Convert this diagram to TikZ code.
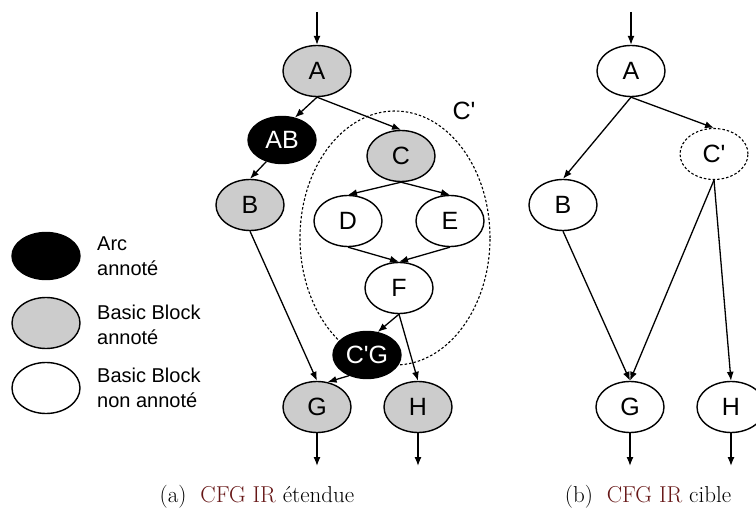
\documentclass[tikz,border=0pt]{standalone}
\usepackage{fontspec}
\newfontfamily\hv{Liberation Sans}
\usetikzlibrary{shapes.geometric,arrows.meta}
\definecolor{capred}{RGB}{102,22,22}
\definecolor{bbgray}{RGB}{204,204,204}
\begin{document}
\begin{tikzpicture}[x=1pt,y=-1pt,
  bb/.style={ellipse,draw,line width=1.4pt,minimum width=68pt,minimum height=51pt,inner sep=0pt,font=\hv\fontsize{25}{25}\selectfont},
  arcbb/.style={bb,fill=black,text=white,minimum height=47pt},
  annbb/.style={bb,fill=bbgray},
  plainbb/.style={bb,fill=white},
  dotbb/.style={bb,dash pattern=on 2.5pt off 2pt,line width=1.1pt},
  edge/.style={-{Latex[length=9pt,width=7pt]},line width=1.3pt},
  lg/.style={font=\hv\fontsize{20}{25}\selectfont,align=left,anchor=west,inner sep=0pt},
  captext/.style={font=\fontsize{23}{26}\selectfont,inner sep=0pt,anchor=base}
]
\useasboundingbox (0,0) rectangle (756,508);
\clip (0,0) rectangle (756,508);

% ---------- left graph ----------
\node[ellipse,draw,dash pattern=on 2.5pt off 2pt,line width=1.1pt,minimum width=190pt,minimum height=254pt,inner sep=0pt] (zone) at (395,238) {};
\node[font=\hv\fontsize{25}{25}\selectfont,inner sep=0pt] (zonelbl) at (464,111) {C'};

\node[annbb] (A) at (317,71) {A};
\node[arcbb] (AB) at (282,140) {AB};
\node[annbb] (C) at (401,156) {C};
\node[annbb] (B) at (250,205) {B};
\node[plainbb] (D) at (348,221) {D};
\node[plainbb] (E) at (450,221) {E};
\node[plainbb] (F) at (399,288) {F};
\node[arcbb] (CG) at (367,355) {C'G};
\node[annbb] (G) at (317,407) {G};
\node[annbb] (H) at (418,407) {H};

\coordinate (inA) at (317,12);
\coordinate (outG) at (317,466);
\coordinate (outH) at (418,466);

\draw[edge] (inA) -- (A.north);
\draw[edge] (A.south) -- (AB.60);
\draw[edge] (A.south) -- (C.north);
\draw[edge] (AB.234) -- (B.north);
\draw[edge] (C.south) -- (D.north);
\draw[edge] (C.south) -- (E.north);
\draw[edge] (D.south) -- (F.north);
\draw[edge] (E.south) -- (F.north);
\draw[edge] (F.south) -- (CG.65);
\draw[edge] (F.south) -- (H.north);
\draw[edge] (B.south) -- (G.north);
\draw[edge] (CG.229) -- (G.67);
\draw[edge] (G.south) -- (outG);
\draw[edge] (H.south) -- (outH);

% ---------- right graph ----------
\node[plainbb] (rA) at (631,71) {A};
\node[dotbb] (rC) at (714,154) {C'};
\node[plainbb] (rB) at (563,205) {B};
\node[plainbb] (rG) at (630,407) {G};
\node[plainbb] (rH) at (731,407) {H};

\coordinate (rinA) at (631,12);
\coordinate (routG) at (630,466);
\coordinate (routH) at (731,466);

\draw[edge] (rinA) -- (rA.north);
\draw[edge] (rA.south) -- (rB.north);
\draw[edge] (rA.south) -- (rC.north);
\draw[edge] (rC.south) -- (rG.north);
\draw[edge] (rC.south) -- (rH.north);
\draw[edge] (rB.south) -- (rG.north);
\draw[edge] (rG.south) -- (routG);
\draw[edge] (rH.south) -- (routH);

% ---------- legend ----------
\node[arcbb] (L1) at (46,256) {};
\node[annbb] (L2) at (46,323) {};
\node[plainbb] (L3) at (46,388) {};
\node[lg] (T1) at (97,256) {Arc\\annoté};
\node[lg] (T2) at (97,325) {Basic Block\\annoté};
\node[lg] (T3) at (97,388) {Basic Block\\non annoté};

% ---------- captions ----------
\node[captext] (capa) at (257,502) {(a)\ \ \textcolor{capred}{CFG IR} étendue};
\node[captext] (capb) at (648,502) {(b)\ \ \textcolor{capred}{CFG IR} cible};
\end{tikzpicture}
\end{document}
